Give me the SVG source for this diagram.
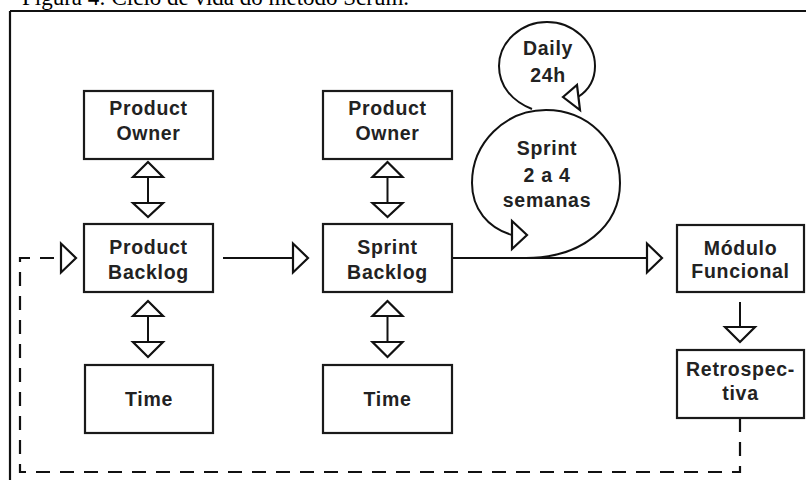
<svg xmlns="http://www.w3.org/2000/svg" width="806" height="480" viewBox="0 0 806 480">
<style>
.box{fill:#fff;stroke:#1a1a1a;stroke-width:2.2}
.t{font-family:"Liberation Sans",Arial,sans-serif;font-weight:bold;font-size:19.5px;fill:#222;text-anchor:middle;letter-spacing:0.7px}
.ln{fill:none;stroke:#111;stroke-width:2}
.dash{fill:none;stroke:#111;stroke-width:2.2;stroke-dasharray:14 10}
.head{fill:#fff;stroke:#111;stroke-width:2.2;stroke-linejoin:miter}
.cap{font-family:"Liberation Serif","Times New Roman",serif;font-size:23px;fill:#000}
</style>
<rect width="806" height="480" fill="#fff"/>
<text class="cap" x="22" y="5">Figura 4: Ciclo de vida do método Scrum.</text>
<path d="M10 11H806M10 11V480" fill="none" stroke="#111" stroke-width="2.2"/>

<g id="connectors">
  <path class="ln" d="M148 177V203"/>
  <polygon class="head" points="148,162 133,177 163,177"/>
  <polygon class="head" points="148,217 133,203 163,203"/>
  <path class="ln" d="M148 316V342"/>
  <polygon class="head" points="148,301 133,316 163,316"/>
  <polygon class="head" points="148,357 133,342 163,342"/>
  <path class="ln" d="M387.5 177V203"/>
  <polygon class="head" points="387.5,162 372.5,177 402.5,177"/>
  <polygon class="head" points="387.5,217 372.5,203 402.5,203"/>
  <path class="ln" d="M387.5 316V342"/>
  <polygon class="head" points="387.5,301 372.5,316 402.5,316"/>
  <polygon class="head" points="387.5,357 372.5,342 402.5,342"/>
  <path class="ln" d="M223 258H293"/>
  <polygon class="head" points="308,258 293,243.5 293,272.5"/>
  <path class="ln" d="M452 258H647"/>
  <polygon class="head" points="662,258 647,243.5 647,272.5"/>
  <path class="ln" d="M740 302V327"/>
  <polygon class="head" points="740,342 725,327 755,327"/>
  <path class="dash" d="M740 418V472H20V258H60"/>
  <polygon class="head" points="76,258 61,243.5 61,272.5"/>
  <path class="ln" d="M526 258C582 258 620 226 620 183C620 141 587 110 546 110C505 110 472 143 472 183C472 209 488 228 512 235"/>
  <polygon class="head" points="527,235 512,221 512,249"/>
  <path class="ln" d="M532 109C512 101 499 86 499 66C499 42 521 22 547 22C573 22 595 42 595 66C595 79 589 90 578 97"/>
  <polygon class="head" points="563,97 577,85 580,110"/>
</g>

<g id="po1"><rect class="box" x="84" y="91" width="129" height="68"/><text class="t" x="148.5" y="115">Product</text><text class="t" x="148.5" y="140">Owner</text></g>
<g id="pb"><rect class="box" x="84" y="224" width="129" height="68"/><text class="t" x="148.5" y="254">Product</text><text class="t" x="148.5" y="279">Backlog</text></g>
<g id="time1"><rect class="box" x="85" y="365" width="128" height="68"/><text class="t" x="149" y="406">Time</text></g>
<g id="po2"><rect class="box" x="323" y="91" width="129" height="68"/><text class="t" x="387.5" y="115">Product</text><text class="t" x="387.5" y="140">Owner</text></g>
<g id="sb"><rect class="box" x="323" y="224" width="129" height="68"/><text class="t" x="387.5" y="254">Sprint</text><text class="t" x="387.5" y="279">Backlog</text></g>
<g id="time2"><rect class="box" x="323" y="365" width="129" height="68"/><text class="t" x="387.5" y="406">Time</text></g>
<g id="modulo"><rect class="box" x="677" y="225" width="127" height="67"/><text class="t" x="740.5" y="255">Módulo</text><text class="t" x="740.5" y="278">Funcional</text></g>
<g id="retro"><rect class="box" x="677" y="350" width="127" height="68"/><text class="t" x="740.5" y="376">Retrospec-</text><text class="t" x="740.5" y="400">tiva</text></g>
<g id="daily"><text class="t" x="548" y="55">Daily</text><text class="t" x="548" y="82">24h</text></g>
<g id="sprint"><text class="t" x="547" y="155">Sprint</text><text class="t" x="547" y="182">2 a 4</text><text class="t" x="547" y="207">semanas</text></g>
</svg>
